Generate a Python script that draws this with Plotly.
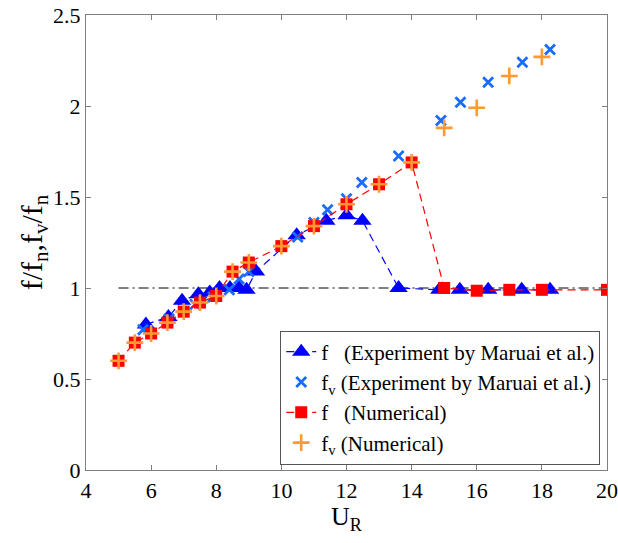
import plotly.graph_objects as go

# Experimental f (Maruai et al.)
exp_f_x = [5.84, 6.53, 6.95, 7.45, 7.8, 8.1, 8.42, 8.7, 8.93, 9.22, 10.47, 11.38, 12.0, 12.49, 13.6, 14.85, 15.48, 16.35, 17.38, 18.25]
exp_f_y = [0.80, 0.84, 0.93, 0.965, 0.975, 1.0, 1.0, 1.0, 0.99, 1.09, 1.29, 1.37, 1.40, 1.37, 1.0, 0.99, 0.99, 0.99, 0.99, 0.99]

# Experimental fv (Maruai et al.)
exp_fv_x = [5.75, 6.55, 7.35, 7.9, 8.4, 8.7, 9.0, 10.5, 11.0, 11.42, 12.0, 12.47, 13.6, 14.9, 15.5, 16.35, 17.4, 18.25]
exp_fv_y = [0.77, 0.83, 0.91, 0.95, 0.99, 1.05, 1.09, 1.28, 1.36, 1.43, 1.49, 1.58, 1.725, 1.92, 2.02, 2.13, 2.24, 2.31]

# Numerical f
num_f_x = [5, 5.5, 6, 6.5, 7, 7.5, 8, 8.5, 9, 10, 11, 12, 13, 14, 15, 16, 17, 18, 20]
num_f_y = [0.60, 0.70, 0.75, 0.81, 0.87, 0.92, 0.956, 1.09, 1.14, 1.23, 1.34, 1.46, 1.57, 1.69, 1.0, 0.985, 0.99, 0.99, 0.99]

# Numerical fv
num_fv_x = [5, 5.5, 6, 6.5, 7, 7.5, 8, 8.5, 9, 10, 11, 12, 13, 14, 15, 16, 17, 18]
num_fv_y = [0.60, 0.70, 0.75, 0.81, 0.87, 0.92, 0.956, 1.09, 1.14, 1.23, 1.34, 1.46, 1.57, 1.69, 1.88, 1.99, 2.165, 2.27]

# Reference line f/fn = 1
ref_x = [5, 20]
ref_y = [1, 1]

x_ticks = [4, 6, 8, 10, 12, 14, 16, 18, 20]
y_ticks = [0, 0.5, 1, 1.5, 2, 2.5]
y_tick_text = ["0", "0.5", "1", "1.5", "2", "2.5"]

FONT = "Liberation Serif, Tinos, Times New Roman, serif"

fig = go.Figure()
fig.add_trace(go.Scatter(x=ref_x, y=ref_y, mode="lines", showlegend=False,
                         line=dict(color="black", width=1, dash="10px,4px,2px,4px"), hoverinfo="skip"))
fig.add_trace(go.Scatter(x=exp_f_x, y=exp_f_y, mode="lines+markers",
                         name="f   (Experiment by Maruai et al.)",
                         line=dict(color="#0000FF", width=1.2, dash="8px,5px"),
                         marker=dict(symbol="triangle-up", size=16, color="#0000FF")))
fig.add_trace(go.Scatter(x=exp_fv_x, y=exp_fv_y, mode="markers",
                         name="f<sub>v</sub> (Experiment by Maruai et al.)",
                         marker=dict(symbol="x-thin", size=10, color="#1a6cff",
                                     line=dict(width=2.8, color="#1a6cff"))))
fig.add_trace(go.Scatter(x=num_f_x, y=num_f_y, mode="lines+markers",
                         name="f   (Numerical)",
                         line=dict(color="#FF0000", width=1.2, dash="8px,5px"),
                         marker=dict(symbol="square", size=12, color="#FF0000")))
fig.add_trace(go.Scatter(x=num_fv_x, y=num_fv_y, mode="markers",
                         name="f<sub>v</sub> (Numerical)",
                         marker=dict(symbol="cross-thin", size=12, color="#FF9933",
                                     line=dict(width=2.6, color="#FF9933"))))

axis_common = dict(showline=True, linecolor="#7f7f7f", linewidth=1.2, mirror="ticks",
                   ticks="inside", ticklen=5, tickcolor="#7f7f7f", showgrid=False,
                   zeroline=False, automargin=False,
                   tickfont=dict(family=FONT, size=22, color="black"))

fig.update_xaxes(range=[4, 20], tickvals=x_ticks, ticktext=[str(v) for v in x_ticks],
                 title=dict(text="U<sub>R</sub>", font=dict(family=FONT, size=26, color="black"), standoff=4),
                 **axis_common)
fig.update_yaxes(range=[0, 2.5], tickvals=y_ticks, ticktext=y_tick_text,
                 title=dict(text="f/f<sub>n</sub>,f<sub>v</sub>/f<sub>n</sub>", font=dict(family=FONT, size=30, color="black"), standoff=0),
                 **axis_common)

fig.update_layout(
    width=618, height=543,
    margin=dict(l=86, r=11, t=15, b=73),
    paper_bgcolor="white", plot_bgcolor="white",
    font=dict(family=FONT, color="black"),
    legend=dict(x=0.987, y=0.012, xanchor="right", yanchor="bottom",
                bgcolor="white", bordercolor="#555555", borderwidth=1,
                font=dict(family=FONT, size=21, color="black"),
                tracegroupgap=0, itemwidth=30),
)

fig.write_html("out.html")
